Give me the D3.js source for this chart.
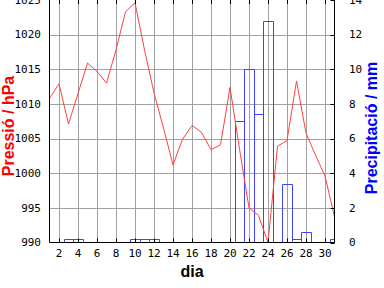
<!DOCTYPE html>
<html>
<head>
<meta charset="utf-8">
<script src="https://cdn.jsdelivr.net/npm/d3@7"></script>
<style>
  body { margin: 0; background: #fff; }
  svg { display: block; }
</style>
</head>
<body>
<div id="chart"></div>
<script>
// data
const days = d3.range(1, 32);
const pressure = [1010.8, 1012.9, 1007.1, 1011.5, 1015.9, 1014.7, 1013.0, 1017.8, 1023.3, 1024.6,
  1017.8, 1011.6, 1006.5, 1001.2, 1004.9, 1006.9, 1005.9, 1003.4, 1004.1, 1012.4,
  1003.5, 995.0, 993.9, 990.0, 1003.9, 1004.7, 1013.3, 1005.8, 1002.6, 999.6, 993.7];
const precip = [0, 0, 0.2, 0.2, 0, 0, 0, 0, 0, 0.2,
  0.2, 0.2, 0, 0, 0, 0, 0, 0, 0, 0,
  7.0, 10.0, 7.4, 12.8, 0, 3.4, 0.2, 0.6, 0, 0, 0.2];
const dayTicks = d3.range(2, 31, 2);
const pressTicks = [990, 995, 1000, 1005, 1010, 1015, 1020, 1025];
const precTicks = [0, 2, 4, 6, 8, 10, 12, 14];

const width = 384, height = 288;
const plotLeft = 49.5, plotRight = 334.5, plotTop = 0, plotBottom = 242.5;

const svg = d3.select("#chart")
  .append("svg")
    .attr("width", width)
    .attr("height", height);

const x = d3.scaleLinear().domain([1, 31]).range([plotLeft, plotRight]);
const y = d3.scaleLinear().domain([990, 1025]).range([plotBottom, plotTop]);
const y2 = d3.scaleLinear().domain([0, 14]).range([plotBottom, plotTop]);

const snap = v => Math.round(v) + 0.5;

// grid
const grid = svg.append("g")
  .attr("stroke", "#a0a0a0")
  .attr("stroke-width", 1);
grid.selectAll("line.v")
  .data(dayTicks)
  .join("line")
    .attr("x1", d => snap(x(d))).attr("x2", d => snap(x(d)))
    .attr("y1", plotTop).attr("y2", plotBottom);
grid.selectAll("line.h")
  .data(pressTicks.filter(d => d > 990 && d < 1025))
  .join("line")
    .attr("x1", plotLeft).attr("x2", plotRight)
    .attr("y1", d => snap(y(d))).attr("y2", d => snap(y(d)));

// precipitation bars, outline only (last one is cut by the right axis)
const bars = days.map((d, i) => ({day: d, value: precip[i]})).filter(d => d.value > 0);
svg.append("g")
  .selectAll("path")
  .data(bars)
  .join("path")
    .attr("d", d => {
      const x0 = snap(x(d.day - 0.5));
      const x1 = Math.min(snap(x(d.day + 0.5)), plotRight);
      const yt = snap(y2(d.value));
      return `M${x0},${plotBottom}V${yt}H${x1}V${plotBottom}`;
    })
    .attr("fill", "none")
    .attr("stroke", "#4040ff")
    .attr("stroke-width", 1);

// pressure line
const line = d3.line()
  .x((d, i) => x(days[i]))
  .y(d => Math.min(y(d), plotBottom));

svg.append("path")
  .datum(pressure)
  .attr("d", line)
  .attr("fill", "none")
  .attr("stroke", "#ff4040")
  .attr("stroke-width", 1);

// frame
const frame = svg.append("g")
  .attr("stroke", "#000")
  .attr("stroke-width", 1);
frame.append("line").attr("x1", plotLeft).attr("x2", plotLeft).attr("y1", plotTop).attr("y2", plotBottom);
frame.append("line").attr("x1", plotRight).attr("x2", plotRight).attr("y1", plotTop).attr("y2", plotBottom);
frame.append("line").attr("x1", plotLeft).attr("x2", plotRight).attr("y1", plotBottom).attr("y2", plotBottom);
frame.selectAll("line.tb")
  .data(dayTicks)
  .join("line")
    .attr("x1", d => snap(x(d))).attr("x2", d => snap(x(d)))
    .attr("y1", plotBottom).attr("y2", plotBottom - 4);
frame.selectAll("line.tt")
  .data(dayTicks)
  .join("line")
    .attr("x1", d => snap(x(d))).attr("x2", d => snap(x(d)))
    .attr("y1", plotTop).attr("y2", plotTop + 4);
frame.selectAll("line.tr")
  .data(precTicks)
  .join("line")
    .attr("x1", plotRight).attr("x2", plotRight - 4)
    .attr("y1", d => snap(y2(d))).attr("y2", d => snap(y2(d)));

// tick labels
const mono = "'DejaVu Sans Mono', monospace";
svg.append("g")
  .selectAll("text")
  .data(dayTicks)
  .join("text")
    .attr("x", d => x(d))
    .attr("y", 257)
    .attr("text-anchor", "middle")
    .style("font-family", mono)
    .style("font-size", "11px")
    .text(d => d);

svg.append("g")
  .selectAll("text")
  .data(pressTicks)
  .join("text")
    .attr("x", 41)
    .attr("y", d => y(d))
    .attr("dy", "0.35em")
    .attr("text-anchor", "end")
    .style("font-family", mono)
    .style("font-size", "11px")
    .text(d => d);

svg.append("g")
  .selectAll("text")
  .data(precTicks)
  .join("text")
    .attr("x", 349)
    .attr("y", d => y2(d))
    .attr("dy", "0.35em")
    .attr("text-anchor", "start")
    .style("font-family", mono)
    .style("font-size", "11px")
    .text(d => d);

// axis titles
const sans = "'Liberation Sans', Arial, sans-serif";
svg.append("text")
  .attr("x", 192)
  .attr("y", 277)
  .attr("text-anchor", "middle")
  .style("font-family", sans)
  .style("font-size", "16px")
  .style("font-weight", "bold")
  .text("dia");

svg.append("text")
  .attr("transform", "translate(14,126) rotate(-90)")
  .attr("text-anchor", "middle")
  .attr("fill", "#ff0000")
  .style("font-family", sans)
  .style("font-size", "16px")
  .style("font-weight", "bold")
  .text("Pressió / hPa");

svg.append("text")
  .attr("transform", "translate(377,128) rotate(-90)")
  .attr("text-anchor", "middle")
  .attr("fill", "#0000ff")
  .style("font-family", sans)
  .style("font-size", "16px")
  .style("font-weight", "bold")
  .text("Precipitació / mm");
</script>
</body>
</html>
